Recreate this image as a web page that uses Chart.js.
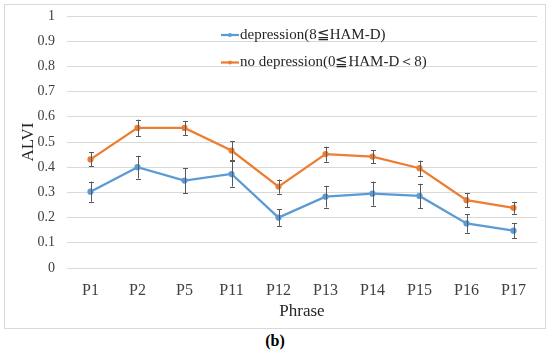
<!DOCTYPE html>
<html>
<head>
<meta charset="utf-8">
<script src="https://cdn.jsdelivr.net/npm/chart.js@4"></script>
<style>
  html, body { margin: 0; padding: 0; background: #fff; }
  #frame {
    position: absolute; left: 4px; top: 4px;
    width: 540px; height: 323px;
    border: 1px solid #d9d9d9;
  }
  #caption {
    position: absolute; left: 0; top: 332px; width: 550px;
    text-align: center;
    font: bold 16px "Liberation Serif", serif;
  }
</style>
</head>
<body>
<div id="frame"><canvas id="alviChart" width="540" height="323"></canvas></div>
<div id="caption">(b)</div>
<script>
const phrases = ['P1', 'P2', 'P5', 'P11', 'P12', 'P13', 'P14', 'P15', 'P16', 'P17'];
const depression = [0.303, 0.400, 0.347, 0.373, 0.200, 0.283, 0.295, 0.286, 0.177, 0.148];
const depressionErr = [0.040, 0.045, 0.050, 0.050, 0.033, 0.043, 0.048, 0.048, 0.037, 0.029];
const noDepression = [0.431, 0.556, 0.556, 0.466, 0.323, 0.452, 0.442, 0.396, 0.269, 0.239];
const noDepressionErr = [0.028, 0.033, 0.028, 0.038, 0.028, 0.030, 0.026, 0.030, 0.027, 0.024];

const serif = '"Liberation Serif", "Times New Roman", serif';

/** draws error bars for each point */
const errorBars = {
  id: 'errorBars',
  afterDatasetsDraw(chart) {
    const ctx = chart.ctx;
    const y = chart.scales.y;
    ctx.save();
    ctx.strokeStyle = '#595959';
    ctx.lineWidth = 1;
    chart.data.datasets.forEach((ds, i) => {
      const meta = chart.getDatasetMeta(i);
      meta.data.forEach((pt, j) => {
        const top = y.getPixelForValue(ds.data[j] + ds.errors[j]);
        const bot = y.getPixelForValue(ds.data[j] - ds.errors[j]);
        const x = Math.round(pt.x) + 0.5;
        ctx.beginPath();
        ctx.moveTo(x, top); ctx.lineTo(x, bot);
        ctx.moveTo(x - 2.5, Math.round(top) + 0.5); ctx.lineTo(x + 2.5, Math.round(top) + 0.5);
        ctx.moveTo(x - 2.5, Math.round(bot) + 0.5); ctx.lineTo(x + 2.5, Math.round(bot) + 0.5);
        ctx.stroke();
      });
    });
    ctx.restore();
  }
};

/** legend inside the plot area */
const innerLegend = {
  id: 'innerLegend',
  afterDraw(chart) {
    const ctx = chart.ctx;
    ctx.save();
    ctx.font = '15px ' + serif;
    ctx.textBaseline = 'middle';
    chart.data.datasets.forEach((ds, i) => {
      const ly = 30 + i * 27.5;
      ctx.strokeStyle = ds.borderColor;
      ctx.lineWidth = 2.25;
      ctx.beginPath();
      ctx.moveTo(216, ly); ctx.lineTo(234, ly);
      ctx.stroke();
      ctx.fillStyle = ds.borderColor;
      ctx.beginPath();
      ctx.arc(225, ly, 2, 0, Math.PI * 2);
      ctx.fill();
      ctx.fillStyle = '#262626';
      ctx.fillText(ds.label, 235, ly);
    });
    ctx.restore();
  }
};

document.addEventListener("DOMContentLoaded", function () {
  const ctx = document.getElementById('alviChart').getContext('2d');
  new Chart(ctx, {
    type: 'line',
    data: {
      labels: phrases,
      datasets: [{
        label: 'depression(8≦HAM-D)',
        data: depression,
        errors: depressionErr,
        borderColor: '#5B9BD5',
        backgroundColor: '#5B9BD5',
        borderWidth: 2.25,
        pointRadius: 2,
        tension: 0
      }, {
        label: 'no depression(0≦HAM-D＜8)',
        data: noDepression,
        errors: noDepressionErr,
        borderColor: '#ED7D31',
        backgroundColor: '#ED7D31',
        borderWidth: 2.25,
        pointRadius: 2,
        tension: 0
      }]
    },
    options: {
      responsive: false,
      animation: false,
      layout: { padding: { left: 4, right: 8, top: 11, bottom: 2 } },
      plugins: {
        legend: { display: false },
        tooltip: { enabled: false }
      },
      scales: {
        y: {
          min: 0,
          max: 1,
          afterFit: (s) => { s.width = 58; s.paddingTop = 0; s.paddingBottom = 0; },
          border: { display: false },
          grid: { color: '#d9d9d9', drawTicks: false },
          ticks: {
            stepSize: 0.1, padding: 12, color: '#404040',
            font: { family: serif, size: 14 },
            callback: (v) => String(Math.round(v * 10) / 10)
          },
          title: { display: true, text: 'ALVI', color: '#262626', font: { family: serif, size: 17 }, padding: { top: 9, bottom: 0 } }
        },
        x: {
          offset: true,
          afterFit: (s) => { s.height = 58; },
          border: { display: false },
          grid: { display: false },
          ticks: { padding: 5, color: '#404040', font: { family: serif, size: 16 } },
          title: { display: true, text: 'Phrase', color: '#262626', font: { family: serif, size: 17 }, padding: { top: 2, bottom: 4 } }
        }
      }
    },
    plugins: [errorBars, innerLegend]
  });
});
</script>
</body>
</html>
